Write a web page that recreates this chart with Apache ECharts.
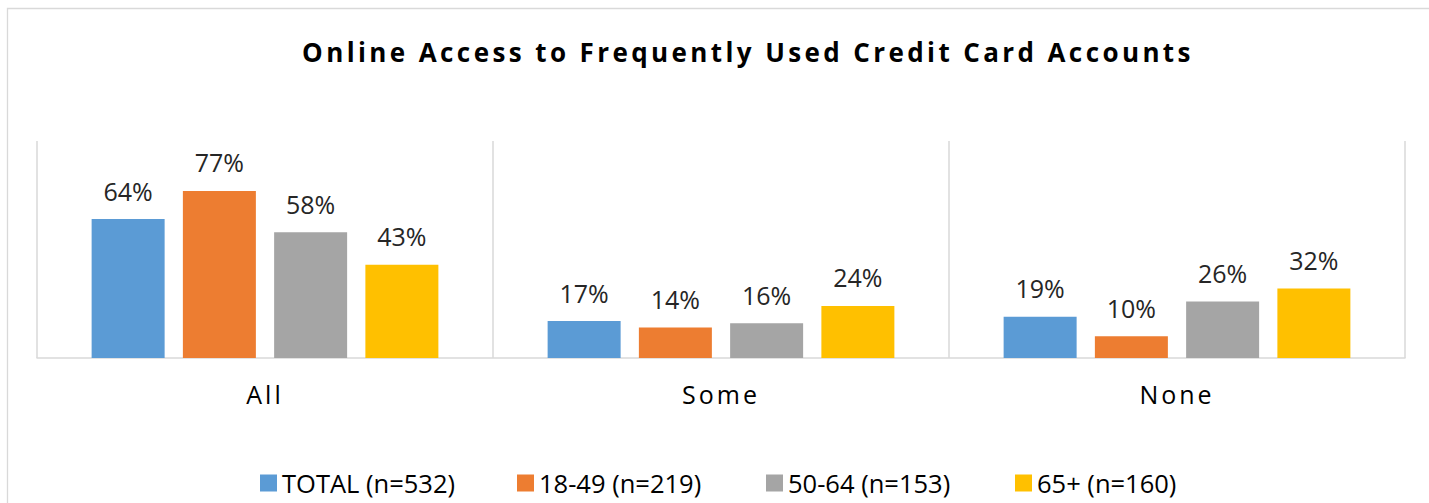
<!DOCTYPE html>
<html>
<head>
<meta charset="utf-8">
<script src="https://cdn.jsdelivr.net/npm/echarts@6/dist/echarts.min.js"></script>
<style>
  html, body { margin: 0; padding: 0; background: #fff; }
  #chart { width: 1429px; height: 503px; }
</style>
</head>
<body>
<div id="chart"></div>
<script>
const titleText = 'Online Access to Frequently Used Credit Card Accounts';
const categories = ['All', 'Some', 'None'];
const seriesNames = ['TOTAL (n=532)', '18-49 (n=219)', '50-64 (n=153)', '65+ (n=160)'];
const totalValues = [64, 17, 19];
const age1849Values = [77, 14, 10];
const age5064Values = [58, 16, 26];
const age65Values = [43, 24, 32];
const colors = ['#5B9BD5', '#ED7D31', '#A5A5A5', '#FFC000'];

const FONT = '"Open Sans", "Liberation Sans", sans-serif';
const seriesValues = [totalValues, age1849Values, age5064Values, age65Values];
const legendLefts = [260, 517, 766, 1015];

const chart = echarts.init(document.getElementById('chart'), null, { renderer: 'svg' });

const option = {
  animation: false,
  backgroundColor: '#ffffff',
  textStyle: { fontFamily: FONT },
  graphic: [{
    type: 'rect',
    shape: { x: 7.5, y: 8.5, width: 1600, height: 700 },
    style: { fill: 'none', stroke: '#d9d9d9', lineWidth: 1.3 },
    silent: true
  }],
  title: {
    text: titleText,
    left: 743,
    top: 34,
    textAlign: 'center',
    textStyle: { fontFamily: FONT, fontSize: 26, fontWeight: 'bold', color: '#000000' }
  },
  legend: seriesNames.map((name, i) => ({
    data: [name],
    left: legendLefts[i],
    top: 470,
    padding: 0,
    itemWidth: 17,
    itemHeight: 17,
    icon: 'rect',
    selectedMode: false,
    textStyle: { fontFamily: FONT, fontSize: 25.5, color: '#000000' }
  })),
  grid: { left: 37, right: 24, top: 141, bottom: 145, containLabel: false },
  xAxis: {
    type: 'category',
    data: categories,
    axisLine: { show: true, lineStyle: { color: '#d9d9d9', width: 1.5 } },
    axisTick: { show: false },
    splitLine: { show: true, lineStyle: { color: '#d9d9d9', width: 1.5 } },
    axisLabel: { margin: 23, fontFamily: FONT, fontSize: 25, color: '#000000' }
  },
  yAxis: {
    type: 'value',
    min: 0,
    max: 100,
    show: false,
    splitLine: { show: false }
  },
  series: seriesNames.map((name, i) => ({
    name: name,
    type: 'bar',
    data: seriesValues[i],
    barWidth: 73,
    barGap: '25%',
    itemStyle: { color: colors[i] },
    label: {
      show: true,
      position: 'top',
      distance: 16,
      formatter: '{c}%',
      fontFamily: FONT,
      fontSize: 25,
      color: '#262626'
    }
  }))
};

chart.setOption(option);

function applySpacing() {
  const texts = document.querySelectorAll('#chart svg text');
  texts.forEach(t => {
    const s = t.textContent;
    if (s === titleText) {
      t.style.letterSpacing = '3.4px';
    } else if (categories.indexOf(s) >= 0) {
      t.style.letterSpacing = '3px';
    }
  });
}
applySpacing();
chart.on('finished', applySpacing);
</script>
</body>
</html>
